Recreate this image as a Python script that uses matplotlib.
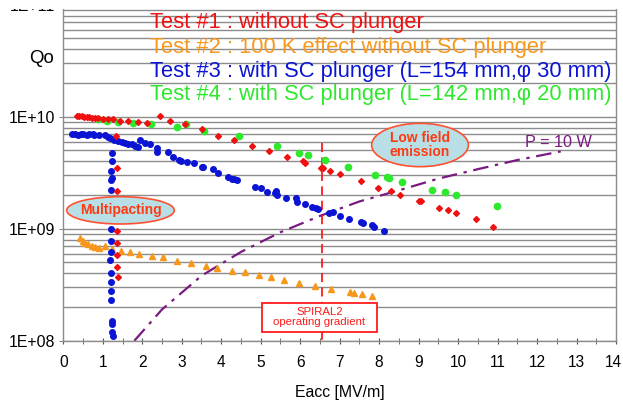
import matplotlib
matplotlib.use('Agg')
import matplotlib.pyplot as plt
import matplotlib.transforms as mtransforms
from matplotlib.patches import Ellipse, Rectangle
from matplotlib.ticker import FixedLocator, LogLocator, NullFormatter, FuncFormatter, MultipleLocator

plt.rcParams['font.family'] = ['Liberation Sans', 'DejaVu Sans']

# ---------------- data ----------------
test1_e = [0.34, 0.41, 0.47, 0.52, 0.59, 0.66, 0.72, 0.80, 0.89, 1.00, 1.14, 1.27, 1.44, 1.65,
           1.88, 2.13, 2.45, 2.70, 3.08, 3.51, 3.93, 4.33, 4.78, 5.20, 5.66, 6.06, 6.11, 6.53,
           6.58, 6.76, 7.01, 7.54, 7.98, 8.30, 8.52, 9.00, 9.07, 9.52, 9.74, 9.95, 10.45, 10.89,
           1.34, 1.35, 1.35, 1.35, 1.35, 1.37, 1.37, 1.39]
test1_q = [1.02e10, 1.02e10, 1.01e10, 1.0e10, 1.0e10, 9.9e9, 9.8e9, 9.7e9, 9.7e9, 9.5e9, 9.5e9,
           9.5e9, 9.2e9, 9.15e9, 9.0e9, 8.8e9, 1.01e10, 9.2e9, 8.6e9, 7.7e9, 6.7e9, 6.2e9, 5.5e9,
           4.97e9, 4.34e9, 4.02e9, 3.88e9, 3.46e9, 3.5e9, 3.27e9, 3.06e9, 2.65e9, 2.32e9, 2.17e9,
           2.0e9, 1.78e9, 1.77e9, 1.54e9, 1.47e9, 1.39e9, 1.21e9, 1.04e9,
           6.7e9, 3.46e9, 2.17e9, 9.5e8, 7.4e8, 5.8e8, 4.55e8, 3.7e8]

test2_e = [0.42, 0.49, 0.55, 0.63, 0.72, 0.80, 0.91, 1.06, 1.23, 1.46, 1.69, 1.93, 2.24, 2.53,
           2.87, 3.23, 3.61, 3.90, 4.28, 4.61, 4.96, 5.26, 5.58, 5.96, 6.38, 6.78, 7.25, 7.37,
           7.56, 7.83]
test2_q = [8.2e8, 7.8e8, 7.5e8, 7.26e8, 7.0e8, 6.9e8, 6.68e8, 7.0e8, 6.55e8, 6.32e8, 6.2e8,
           5.95e8, 5.7e8, 5.56e8, 5.18e8, 4.91e8, 4.68e8, 4.43e8, 4.19e8, 4.08e8, 3.86e8, 3.68e8,
           3.48e8, 3.3e8, 3.08e8, 2.91e8, 2.72e8, 2.65e8, 2.61e8, 2.51e8]

test3_e = [0.21, 0.30, 0.38, 0.44, 0.51, 0.59, 0.66, 0.76, 0.78, 0.91, 1.06, 1.13, 1.18, 1.29,
           1.39, 1.48, 1.56, 1.65, 1.73, 1.82, 1.90, 1.94, 2.07, 2.20, 2.37, 2.37, 2.64, 2.79,
           2.92, 2.98, 3.14, 3.30, 3.51, 3.55, 3.78, 3.93, 4.18, 4.27, 4.33, 4.40, 4.86, 5.00,
           5.16, 5.35, 5.40, 5.42, 5.64, 5.89, 5.93, 6.13, 6.30, 6.41, 6.46, 6.72, 6.84, 7.01,
           7.24, 7.54, 7.58, 7.82, 7.88, 8.13,
           1.23, 1.23, 1.21, 1.23, 1.21, 1.21, 1.20, 1.20, 1.21, 1.18, 1.20, 1.20, 1.21, 1.21,
           1.23, 1.23, 1.24, 1.27]
test3_q = [6.96e9, 6.96e9, 6.9e9, 6.96e9, 7.0e9, 6.9e9, 6.96e9, 6.96e9, 6.8e9, 6.87e9, 6.9e9,
           6.63e9, 6.4e9, 6.2e9, 6.1e9, 5.95e9, 5.86e9, 5.67e9, 5.67e9, 5.47e9, 5.4e9, 6.2e9,
           5.86e9, 5.67e9, 5.28e9, 4.87e9, 4.81e9, 4.34e9, 4.1e9, 4.05e9, 3.94e9, 3.89e9, 3.58e9,
           3.53e9, 3.39e9, 3.12e9, 2.88e9, 2.78e9, 2.76e9, 2.72e9, 2.37e9, 2.3e9, 2.14e9, 2.07e9,
           2.18e9, 2.0e9, 1.89e9, 1.89e9, 1.74e9, 1.65e9, 1.57e9, 1.52e9, 1.49e9, 1.39e9, 1.4e9,
           1.30e9, 1.21e9, 1.15e9, 1.13e9, 1.08e9, 1.04e9, 9.6e8,
           4.77e9, 4.02e9, 3.27e9, 2.85e9, 2.72e9, 2.22e9, 9.9e8, 7.76e8, 6.24e8, 5.25e8, 4.05e8,
           3.36e8, 2.78e8, 2.31e8, 1.51e8, 1.41e8, 1.2e8, 1.1e8]

test4_e = [0.89, 1.10, 1.39, 1.76, 2.22, 2.87, 3.10, 3.57, 4.45, 5.42, 5.96, 6.19, 6.63, 7.20,
           7.90, 8.21, 8.26, 8.58, 9.34, 9.68, 9.95, 10.98]
test4_q = [9.5e9, 9.2e9, 8.9e9, 8.7e9, 8.55e9, 8.15e9, 8.6e9, 7.45e9, 6.74e9, 5.47e9, 4.77e9,
           4.55e9, 4.1e9, 3.58e9, 3.01e9, 2.88e9, 2.82e9, 2.63e9, 2.22e9, 2.11e9, 2.0e9, 1.6e9]

p10w_e = [1.8, 2.5, 3.5, 4.5, 5.5, 6.5, 7.5, 8.5, 9.5, 10.5, 11.5, 12.6]
p10w_q = [1.0e8, 1.9e8, 3.8e8, 6.2e8, 9.3e8, 1.3e9, 1.75e9, 2.2e9, 2.8e9, 3.4e9, 4.1e9, 4.9e9]

spiral2_e = 6.55
y_ticks = [1e8, 1e9, 1e10, 1e11]
y_tick_labels = ['1E+08', '1E+09', '1E+10', '1E+11']
x_ticks = list(range(0, 15))

legend_texts = ['Test #1 : without SC plunger',
                'Test #2 : 100 K effect without SC plunger',
                'Test #3 : with SC plunger (L=154 mm,\u03c6 30 mm)',
                'Test #4 : with SC plunger (L=142 mm,\u03c6 20 mm)']

RED = '#f01010'
ORANGE = '#f7981d'
BLUE = '#0a14d2'
GREEN = '#2ee82e'
PURPLE = '#7a1a80'
GRID = '#8c8c8c'

W, H = 623, 403
fig = plt.figure(figsize=(W / 100, H / 100), dpi=100)


def fx(px):
    return px / W


def fy(py):
    return 1 - py / H


ax_l, ax_r, ax_t, ax_b = 63.3, 616.0, 4.7, 340.7
ax = fig.add_axes([fx(ax_l), fy(ax_b), (ax_r - ax_l) / W, (ax_b - ax_t) / H])
ax.set_yscale('log')
ax.set_xlim(0, 14)
ax.set_ylim(1e8, 1e11)

ax.yaxis.set_major_locator(FixedLocator(y_ticks))
ax.yaxis.set_major_formatter(FuncFormatter(lambda v, p: y_tick_labels[y_ticks.index(v)] if v in y_ticks else ''))
ax.yaxis.set_minor_locator(LogLocator(base=10, subs=[2, 3, 4, 5, 6, 7, 8, 9]))
ax.yaxis.set_minor_formatter(NullFormatter())
ax.xaxis.set_major_locator(FixedLocator(x_ticks))
ax.xaxis.set_minor_locator(MultipleLocator(0.5))

ax.grid(True, which='both', axis='y', color=GRID, lw=1.0)
ax.set_axisbelow(True)
for s in ['left', 'bottom', 'right']:
    ax.spines[s].set_color(GRID)
    ax.spines[s].set_linewidth(1.0)
ax.spines['top'].set_visible(False)

ax.tick_params(axis='y', which='major', length=3, color=GRID, pad=3, labelsize=11.4)
ax.tick_params(axis='y', which='minor', length=0)
ax.tick_params(axis='x', which='both', direction='inout', length=5, color='#555555', pad=8, labelsize=11.2)

# keep the last x tick label ("14") inside the picture
fig.canvas.draw()
xlabels = ax.get_xticklabels()
if xlabels:
    last = xlabels[-1]
    last.set_transform(last.get_transform() + mtransforms.ScaledTranslation(-2.5 / 100, 0, fig.dpi_scale_trans))

# data
ax.plot(p10w_e, p10w_q, color=PURPLE, lw=1.6, dashes=[7, 3, 1.5, 3], zorder=2)
ax.plot(test2_e, test2_q, ls='none', marker='^', ms=5, color=ORANGE, zorder=3)
ax.plot(test3_e, test3_q, ls='none', marker='o', ms=4, color=BLUE, zorder=3)
ax.plot(test4_e, test4_q, ls='none', marker='o', ms=4.5, color=GREEN, zorder=3)
ax.plot(test1_e, test1_q, ls='none', marker='D', ms=3.0, color=RED, zorder=4)

ax.plot([spiral2_e, spiral2_e], [5.8e9, 1e8], color='#ff1a1a', lw=1.3, dashes=[5, 3], zorder=2)

# annotations
ax.add_patch(Ellipse((0.1035, 0.388), 0.1947, 0.0813, transform=ax.transAxes,
                     facecolor='#b9dfe6', edgecolor='#ff5030', lw=1.2, zorder=5))
ax.text(0.1035, 0.388, 'Multipacting', transform=ax.transAxes, ha='center', va='center',
        fontsize=10, fontweight='bold', color='#ff3a12', zorder=6)
ax.add_patch(Ellipse((0.6454, 0.5824), 0.175, 0.1289, transform=ax.transAxes,
                     facecolor='#b9dfe6', edgecolor='#ff5030', lw=1.2, zorder=5))
ax.text(0.6454, 0.5824, 'Low field\nemission', transform=ax.transAxes, ha='center', va='center',
        fontsize=10, fontweight='bold', color='#ff3a12', linespacing=1.05, zorder=6)

ax.add_patch(Rectangle((0.3595, 0.0268), 0.2081, 0.0854, transform=ax.transAxes,
                       facecolor='white', edgecolor='#ff1a1a', lw=1.3, zorder=5))
ax.text(0.4636, 0.0695, 'SPIRAL2\noperating gradient', transform=ax.transAxes, ha='center',
        va='center', fontsize=8.2, color='#ff1a1a', linespacing=1.0, zorder=6)

fig.text(fx(525), fy(146.7), 'P = 10 W', color=PURPLE, fontsize=11.7, ha='left', va='baseline')

# legend texts
legend_colors = [RED, ORANGE, BLUE, GREEN]
legend_base = [28.3, 53.3, 76.7, 100.0]
for t, c, b in zip(legend_texts, legend_colors, legend_base):
    fig.text(fx(150), fy(b), t, color=c, fontsize=15.75, ha='left', va='baseline')

fig.text(fx(53.5), fy(63.3), 'Qo', fontsize=13.4, ha='right', va='baseline')
fig.text(fx(339.6), fy(397.3), 'Eacc [MV/m]', fontsize=11.4, ha='center', va='baseline')

# white band at the very top (the reference image is cut there)
fig.add_artist(Rectangle((0, fy(8.5)), 1, 8.5 / H, transform=fig.transFigure,
                         facecolor='white', edgecolor='none', zorder=10))

fig.savefig('out.png', dpi=100)
